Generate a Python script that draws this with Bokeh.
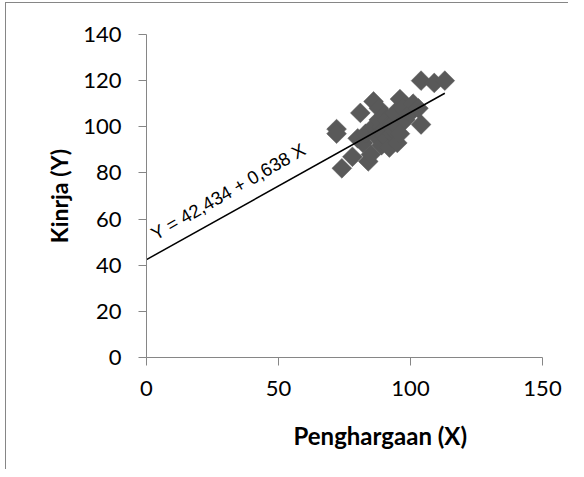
import math
from bokeh.plotting import figure
from bokeh.models import Range1d, ColumnDataSource, FixedTicker, Label, Title
from bokeh.embed import file_html
from bokeh.resources import INLINE

# data
penghargaan = [72, 72, 74, 78, 80, 81, 82, 83, 84, 85, 86, 86, 87, 88, 88, 89, 89, 90, 90, 90,
               91, 91, 92, 92, 93, 93, 94, 94, 95, 95, 96, 96, 97, 98, 100, 101, 103, 104, 104, 109, 113]
kinerja = [99, 97, 82, 87, 95, 106, 93, 97, 85, 88, 111, 100, 96, 103, 108, 92, 100, 99, 105, 96,
           95, 103, 101, 91, 97, 101, 106, 98, 93, 100, 112, 97, 108, 103, 106, 110, 108, 101, 120, 119, 120]
intercept = 42.434
slope = 0.638
line_x = [0, 113]
line_y = [intercept + slope * v for v in line_x]
x_ticks = [0, 50, 100, 150]
y_ticks = [0, 20, 40, 60, 80, 100, 120, 140]
equation = "Y = 42,434 + 0,638 X"
x_title = "Penghargaan (X)"
y_title = "Kinrja (Y)"

OX, OY = 5, 2
W, H = 563, 467
p = figure(width=W, height=H, output_backend="svg", toolbar_location=None,
           x_range=Range1d(0, 150), y_range=Range1d(0, 140),
           min_border_left=145 - OX, min_border_right=W - (541 - OX), min_border_top=33 - OY,
           min_border_bottom=H - (356 - OY))
p.margin = (OY, 0, 0, OX)
p.styles = {"border-left": "1px solid #868686", "border-top": "1px solid #868686"}
p.outline_line_color = None
p.grid.visible = False
p.background_fill_color = "white"
p.border_fill_color = "white"

src = ColumnDataSource(dict(x=penghargaan, y=kinerja))
p.scatter("x", "y", source=src, marker="square", size=14, angle=math.pi / 4,
          fill_color="#595959", line_color="#595959", line_width=0.5)
p.line(line_x, line_y, line_color="black", line_width=1.5)

p.add_layout(Label(x=2.3, y=53, text=equation, angle=math.radians(30),
                   text_font="Liberation Sans", text_font_size="18.5px",
                   text_align="left", text_baseline="alphabetic", text_color="black"))

for ax in (p.xaxis[0], p.yaxis[0]):
    ax.axis_line_color = "#868686"
    ax.major_tick_line_color = "#868686"
    ax.major_tick_out = 8
    ax.major_tick_in = 0
    ax.minor_tick_line_color = None
    ax.major_label_text_font = "Lato"
    ax.major_label_text_font_size = "22px"
    ax.major_label_text_color = "black"

p.xaxis[0].ticker = FixedTicker(ticks=x_ticks)
p.yaxis[0].ticker = FixedTicker(ticks=y_ticks)
p.xaxis[0].major_label_standoff = 15
p.yaxis[0].major_label_standoff = 17

p.yaxis[0].axis_label = y_title
p.yaxis[0].axis_label_text_font = "Lato"
p.yaxis[0].axis_label_text_font_style = "bold"
p.yaxis[0].axis_label_text_font_size = "23px"
p.yaxis[0].axis_label_text_color = "black"
p.yaxis[0].axis_label_standoff = 7

p.add_layout(Title(text=x_title, align="left", offset=147, standoff=41,
                   text_font="Lato", text_font_style="bold", text_font_size="24px",
                   text_color="black"), "below")

open("out.html", "w").write(file_html(p, INLINE))
